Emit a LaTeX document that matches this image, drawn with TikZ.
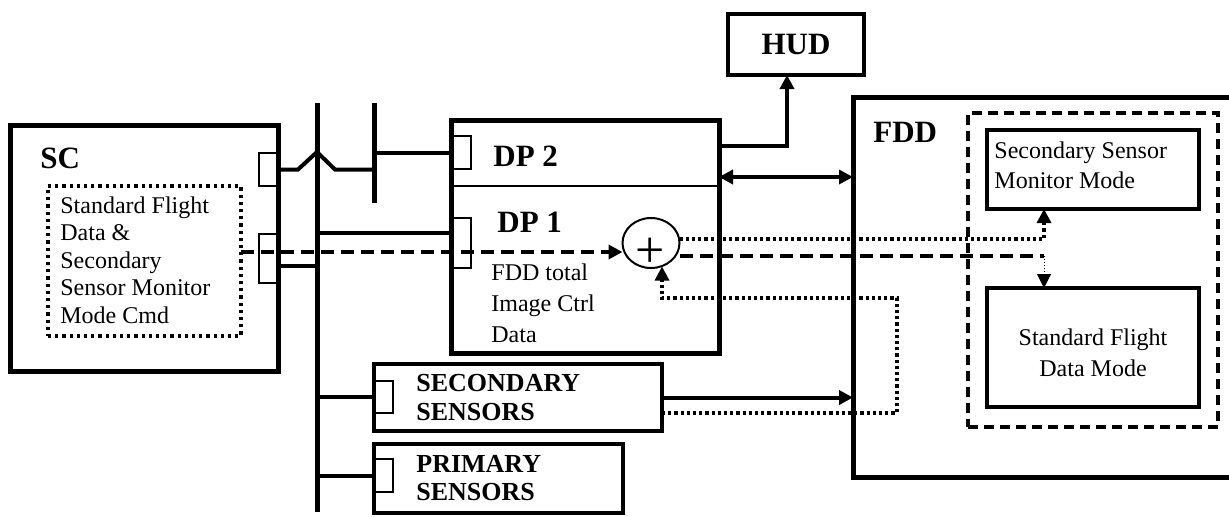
\documentclass[tikz,border=0pt]{standalone}
\usepackage{fontspec}
\setmainfont{Liberation Serif}
\usetikzlibrary{arrows.meta,shapes.geometric}
\begin{document}
\begin{tikzpicture}[x=0.5pt,y=-0.5pt,
  box/.style={draw,line width=2.5pt,rectangle,inner sep=0pt,outer sep=0pt},
  mbox/.style={draw,line width=2pt,rectangle,inner sep=0pt,outer sep=0pt},
  port/.style={draw,line width=1pt,rectangle,inner sep=0pt,outer sep=0pt},
  wire/.style={line width=2pt},
  bus/.style={line width=2.5pt},
  dashline/.style={line width=1.75pt,dash pattern=on 6.5pt off 3.5pt},
  dotline/.style={line width=1.6pt,dash pattern=on 1.6pt off 1.5pt},
  tip/.style={-{Triangle[length=7pt,width=7pt]}},
  lbl/.style={font=\bfseries\fontsize{15.5}{18}\selectfont,inner sep=0pt,anchor=base west},
  txt/.style={inner sep=0pt,anchor=base west},
]
\useasboundingbox (0,0) rectangle (1229,516);

% boxes
\node[box,minimum width=134pt,minimum height=123pt] (sc) at (144,248) {};
\node[draw,line width=1.6pt,dash pattern=on 1.6pt off 2pt,rectangle,inner sep=0pt,outer sep=0pt,minimum width=96.5pt,minimum height=75pt] (inner) at (144.5,261) {};
\node[port,minimum width=9.5pt,minimum height=16.5pt] (scp1) at (268.5,169.5) {};
\node[port,minimum width=9.5pt,minimum height=24.5pt] (scp2) at (268.5,258.5) {};

\node[box,minimum width=134pt,minimum height=116.5pt] (dp) at (585,236.5) {};
\node[port,minimum width=9.5pt,minimum height=16.5pt] (dp2p) at (461.5,152.5) {};
\node[port,minimum width=9.5pt,minimum height=25pt] (dp1p) at (461.5,243) {};

\node[mbox,minimum width=68pt,minimum height=30.5pt,font=\bfseries\fontsize{15.5}{18}\selectfont] (hud) at (796,44.5) {HUD};

\node[box,minimum width=193.5pt,minimum height=190pt] (fdd) at (1046.5,287) {};
\node[draw,line width=1.75pt,dash pattern=on 5pt off 3pt,rectangle,inner sep=0pt,outer sep=0pt,minimum width=125pt,minimum height=157pt] (modes) at (1093,270) {};
\node[mbox,minimum width=106pt,minimum height=39.5pt] (ssm) at (1093,169.5) {};
\node[mbox,minimum width=106pt,minimum height=59.5pt] (sfd) at (1093,347.5) {};

\node[mbox,minimum width=144pt,minimum height=33.5pt] (ss) at (518,397.5) {};
\node[port,minimum width=9.5pt,minimum height=16pt] (ssp) at (383.5,397) {};
\node[draw,line width=1.75pt,rectangle,inner sep=0pt,outer sep=0pt,minimum width=124.5pt,minimum height=34.5pt] (ps) at (498.5,478.5) {};
\node[port,minimum width=9.5pt,minimum height=16.5pt] (psp) at (383.5,475.5) {};

\node[ellipse,draw,line width=1pt,inner sep=0pt,outer sep=0pt,minimum width=28.5pt,minimum height=25pt] (sum) at (651,243) {};
\node[inner sep=0pt,font=\fontsize{26}{26}\selectfont] (plus) at (650,253) {+};

% texts
\node[lbl] (sclbl) at (40,168) {SC};
\node[txt,font=\fontsize{12}{13.75}\selectfont] (sctxt) at (60,213) {\begin{tabular}[t]{@{}l@{}}Standard Flight\\Data \&\\Secondary\\Sensor Monitor\\Mode Cmd\end{tabular}};
\node[lbl] (dp2lbl) at (493,166) {DP 2};
\node[lbl] (dp1lbl) at (497,232) {DP 1};
\node[txt,font=\fontsize{12}{15.5}\selectfont] (dptxt) at (491,280) {\begin{tabular}[t]{@{}l@{}}FDD total\\Image Ctrl\\Data\end{tabular}};
\node[lbl] (fddlbl) at (873,142) {FDD};
\node[txt,font=\fontsize{12}{15}\selectfont] (ssmtxt) at (994,158) {\begin{tabular}[t]{@{}l@{}}Secondary Sensor\\Monitor Mode\end{tabular}};
\node[inner sep=0pt,anchor=base,font=\fontsize{12}{15.5}\selectfont] (sfdtxt) at (1093,345) {\begin{tabular}[t]{@{}c@{}}Standard Flight\\Data Mode\end{tabular}};
\node[txt,font=\bfseries\fontsize{13}{14.5}\selectfont] (sstxt) at (416,391) {\begin{tabular}[t]{@{}l@{}}SECONDARY\\SENSORS\end{tabular}};
\node[txt,font=\bfseries\fontsize{13}{14}\selectfont] (pstxt) at (416,472) {\begin{tabular}[t]{@{}l@{}}PRIMARY\\SENSORS\end{tabular}};

% buses
\draw[bus] (317,103) coordinate (b1t) -- (317,512) coordinate (b1b);
\draw[bus] (374,103) coordinate (b2t) -- (374,203) coordinate (b2b);

% wires
\draw[wire] (scp1.east) -- (298,169.5) -- (317,152) -- (335,169.5) -- (b2t |- scp1.east);
\draw[wire] (b2t |- dp2p.west) -- (dp2p.west);
\draw[wire] (b1t |- 0,233) -- (dp.west |- 0,233);
\draw[wire] (scp2.east |- 0,266) -- (b1t |- 0,266);
\draw[wire] (b1t |- ssp.west) -- (ssp.west);
\draw[wire] (b1t |- psp.west) -- (psp.west);
\draw[line width=1pt] (dp.west |- 0,186) -- (dp.east |- 0,186);

\draw[dashline,tip] (inner.east |- 0,252) -- (sum.west |- 0,252);
\draw[dotline,tip] (sum.east |- 0,239) -- (1044,239) -- (1044,0 |- ssm.south);
\draw[dashline] (sum.east |- 0,256) -- (1044,256) coordinate (dturn);
\draw[line width=0.5pt,densely dotted,tip] (dturn) -- (dturn |- sfd.north);
\draw[dotline,tip] (ss.east |- 0,413) -- (897,413) -- (897,298) -- (662,298) -- (662,266.5);

\draw[wire,tip] (ss.east) -- (ss.east -| fdd.west);
\draw[wire,tip] (dp.east |- 0,146) -| (787,0 |- hud.south);
\draw[wire,{Triangle[length=7pt,width=7pt]}-{Triangle[length=7pt,width=7pt]}] (dp.east |- 0,177) -- (fdd.west |- 0,177);
\end{tikzpicture}
\end{document}
